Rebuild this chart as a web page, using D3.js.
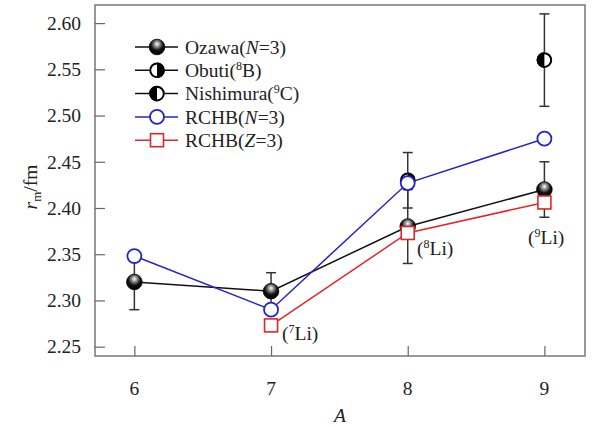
<!DOCTYPE html>
<html><head><meta charset="utf-8">
<script src="https://cdn.jsdelivr.net/npm/d3@7"></script>
<style>body{margin:0;background:#fff}text{font-family:"Liberation Serif","Times New Roman",serif}</style>
</head><body><svg id="c" width="593" height="427"></svg>
<script>
const massNumbers = [6, 7, 8, 9];
const xTicks = [6, 7, 8, 9];
const yTicks = [2.25, 2.30, 2.35, 2.40, 2.45, 2.50, 2.55, 2.60];
const ozawaA = [6, 7, 8, 9];
const ozawaVal = [2.32, 2.31, 2.38, 2.42];
const ozawaErr = [0.03, 0.02, 0.04, 0.03];
const obutiA = [8];
const obutiVal = [2.43];
const obutiErr = [0.03];
const nishimuraA = [9];
const nishimuraVal = [2.56];
const nishimuraErr = [0.05];
const rchbNA = [6, 7, 8, 9];
const rchbNVal = [2.348, 2.29, 2.427, 2.475];
const rchbZA = [7, 8, 9];
const rchbZVal = [2.273, 2.373, 2.406];
const isoLabels = [{A:7, v:2.273, sup:"7"}, {A:8, v:2.373, sup:"8"}, {A:9, v:2.406, sup:"9"}];

const FS = 19.5;
const svg = d3.select("#c");
const L = 95, R = 585, T = 5, B = 356;
const x = d3.scaleLinear().domain([5.712, 9.297]).range([L, R]);
const y = d3.scaleLinear().domain([2.2399, 2.6196]).range([B, T]);

const defs = svg.append("defs");
const g = defs.append("radialGradient").attr("id","sph").attr("cx","0.5").attr("cy","0.35").attr("r","0.65").attr("fx","0.5").attr("fy","0.3");
g.append("stop").attr("offset","0").attr("stop-color","#ffffff");
g.append("stop").attr("offset","0.25").attr("stop-color","#999");
g.append("stop").attr("offset","0.6").attr("stop-color","#111");
g.append("stop").attr("offset","1").attr("stop-color","#000");

svg.append("rect").attr("x",L).attr("y",T).attr("width",R-L).attr("height",B-T)
  .attr("fill","none").attr("stroke","#777").attr("stroke-width",1.5);

const yAx = svg.append("g").attr("transform",`translate(${L},0)`)
  .call(d3.axisRight(y).tickValues(yTicks).tickSize(10).tickFormat(""));
yAx.select(".domain").remove();
yAx.selectAll("line").attr("stroke","#666").attr("stroke-width",1.2);
svg.append("g").selectAll("text").data(yTicks).join("text")
  .attr("x",81).attr("y",d=>y(d)).attr("dy","0.35em").attr("text-anchor","end")
  .attr("font-size",FS).attr("fill","#222").text(d=>d.toFixed(2));

const xAx = svg.append("g").attr("transform",`translate(0,${B})`)
  .call(d3.axisTop(x).tickValues(xTicks).tickSize(10).tickFormat(""));
xAx.select(".domain").remove();
xAx.selectAll("line").attr("stroke","#666").attr("stroke-width",1.2);
svg.append("g").selectAll("text").data(xTicks).join("text")
  .attr("x",d=>x(d)).attr("y",388).attr("dy","0.35em").attr("text-anchor","middle")
  .attr("font-size",FS).attr("fill","#222").text(d=>d);

svg.append("text").attr("x",340).attr("y",415).attr("dy","0.35em").attr("text-anchor","middle")
  .attr("font-size",FS).attr("font-style","italic").attr("fill","#222").text("A");
const yl = svg.append("text").attr("transform","translate(30,187) rotate(-90)").attr("text-anchor","middle")
  .attr("dy","0.35em").attr("font-size",FS).attr("fill","#222");
yl.append("tspan").attr("font-style","italic").text("r");
yl.append("tspan").attr("font-size",13).attr("dy",4).text("m");
yl.append("tspan").attr("dy",-4).text("/fm");

const line = d3.line().x(d=>x(d[0])).y(d=>y(d[1]));
const pairs = (a,v)=>a.map((d,i)=>[d,v[i]]);

function errBars(a,v,e){
  const gg = svg.append("g").attr("stroke","#333").attr("stroke-width",1.5);
  a.forEach((d,i)=>{
    const cx=x(d);
    gg.append("line").attr("x1",cx).attr("x2",cx).attr("y1",y(v[i]-e[i])).attr("y2",y(v[i]+e[i]));
    [v[i]-e[i],v[i]+e[i]].forEach(w=>gg.append("line").attr("x1",cx-5).attr("x2",cx+5).attr("y1",y(w)).attr("y2",y(w)));
  });
}
errBars(ozawaA,ozawaVal,ozawaErr);
errBars(obutiA,obutiVal,obutiErr);
errBars(nishimuraA,nishimuraVal,nishimuraErr);

svg.append("path").attr("d",line(pairs(ozawaA,ozawaVal))).attr("fill","none").attr("stroke","#111").attr("stroke-width",1.5);
svg.append("path").attr("d",line(pairs(rchbZA,rchbZVal))).attr("fill","none").attr("stroke","#e0262b").attr("stroke-width",1.5);
svg.append("path").attr("d",line(pairs(rchbNA,rchbNVal))).attr("fill","none").attr("stroke","#2424c8").attr("stroke-width",1.5);

function sphere(sel,cx,cy){ sel.append("circle").attr("cx",cx).attr("cy",cy).attr("r",7.8).attr("fill","url(#sph)").attr("stroke","#000").attr("stroke-width",0.8); }
function halfCircle(sel,cx,cy,blackRight){
  const r=7.8;
  sel.append("circle").attr("cx",cx).attr("cy",cy).attr("r",r).attr("fill","#fff");
  const s = blackRight?1:0;
  sel.append("path").attr("d",`M${cx},${cy-r} A${r},${r} 0 0 ${s} ${cx},${cy+r} Z`).attr("fill","#000");
  sel.append("circle").attr("cx",cx).attr("cy",cy).attr("r",r-1).attr("fill","none").attr("stroke","#000").attr("stroke-width",2);
}
function openCircle(sel,cx,cy){ sel.append("circle").attr("cx",cx).attr("cy",cy).attr("r",7).attr("fill","#fff").attr("stroke","#2424c8").attr("stroke-width",1.8); }
function openSquare(sel,cx,cy){ sel.append("rect").attr("x",cx-6.5).attr("y",cy-6.5).attr("width",13).attr("height",13).attr("fill","#fff").attr("stroke","#e0262b").attr("stroke-width",1.6); }

const mk = svg.append("g");
ozawaA.forEach((d,i)=>sphere(mk,x(d),y(ozawaVal[i])));
obutiA.forEach((d,i)=>halfCircle(mk,x(d),y(obutiVal[i]),true));
nishimuraA.forEach((d,i)=>halfCircle(mk,x(d),y(nishimuraVal[i]),false));
rchbZA.forEach((d,i)=>openSquare(mk,x(d),y(rchbZVal[i])));
rchbNA.forEach((d,i)=>openCircle(mk,x(d),y(rchbNVal[i])));

const labPos = {7:[282,333],8:[417,248],9:[528,237]};
isoLabels.forEach(l=>{
  const p = labPos[l.A];
  const t = svg.append("text").attr("x",p[0]).attr("y",p[1]).attr("dy","0.35em").attr("font-size",FS).attr("fill","#222");
  t.append("tspan").text("(");
  t.append("tspan").attr("font-size",12).attr("dy",-7).text(l.sup);
  t.append("tspan").attr("dy",7).text("Li)");
});

const legend = [
  {parts:[["Ozawa(",0],["N",1],["=3)",0]], type:"sphere", color:"#111"},
  {parts:[["Obuti(",0],["8",2],["B)",0]], type:"halfR", color:"#111"},
  {parts:[["Nishimura(",0],["9",2],["C)",0]], type:"halfL", color:"#111"},
  {parts:[["RCHB(",0],["N",1],["=3)",0]], type:"circ", color:"#2424c8"},
  {parts:[["RCHB(",0],["Z",1],["=3)",0]], type:"sq", color:"#e0262b"}
];
const lg = svg.append("g");
legend.forEach((d,i)=>{
  const ly = 47 + i*23.3;
  lg.append("line").attr("x1",135).attr("x2",178).attr("y1",ly).attr("y2",ly).attr("stroke",d.color).attr("stroke-width",1.5);
  if(d.type==="sphere") sphere(lg,157,ly);
  else if(d.type==="halfR") halfCircle(lg,157,ly,true);
  else if(d.type==="halfL") halfCircle(lg,157,ly,false);
  else if(d.type==="circ") openCircle(lg,157,ly);
  else openSquare(lg,157,ly);
  const t = lg.append("text").attr("x",185).attr("y",ly).attr("dy","0.35em").attr("font-size",FS).attr("fill","#222");
  d.parts.forEach((p,j)=>{
    if(p[1]===1) t.append("tspan").attr("font-style","italic").text(p[0]);
    else if(p[1]===2) t.append("tspan").attr("font-size",12).attr("dy",-7).text(p[0]);
    else {
      const ts = t.append("tspan").text(p[0]);
      if(j>0 && d.parts[j-1][1]===2) ts.attr("dy",7);
    }
  });
});
</script></body></html>
